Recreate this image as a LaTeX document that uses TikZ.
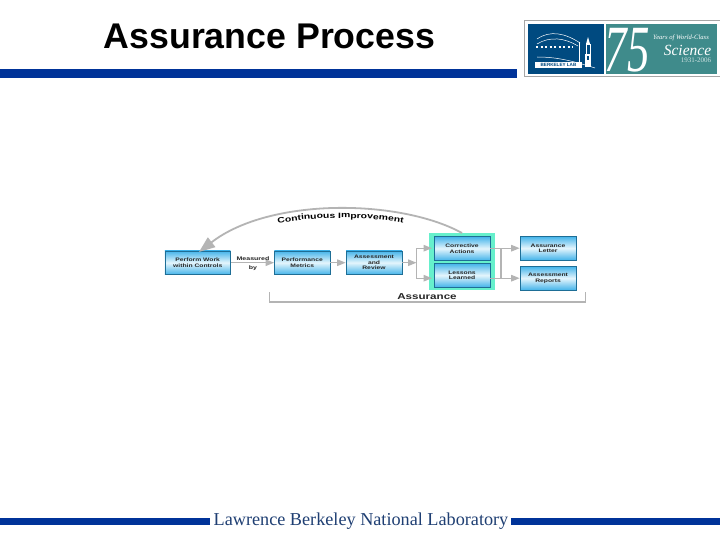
\documentclass[tikz,border=0pt]{standalone}
\usepackage{graphicx}
\usepackage{fontspec}
\setmainfont{Liberation Sans}
\newfontfamily\serifface{Liberation Serif}
\newfontfamily\wideface[FakeStretch=1.35]{Liberation Sans}
\usetikzlibrary{arrows.meta,decorations.text,calc}
\definecolor{barblue}{HTML}{003399}
\definecolor{logoblue}{HTML}{004A80}
\definecolor{logoteal}{HTML}{3F8B8B}
\definecolor{boxedge}{HTML}{1E6E96}
\definecolor{boxblue}{HTML}{45B4EA}
\definecolor{boxpale}{HTML}{E4F5FC}
\definecolor{flow}{HTML}{B4B4B4}
\definecolor{halo}{HTML}{66F0CC}
\definecolor{wordblue}{HTML}{1F3F73}
\tikzset{
  x=1pt,y=-1pt,
  procbox/.style={rectangle,draw=boxedge,line width=0.7pt,top color=boxblue,bottom color=boxblue,middle color=boxpale,
    minimum width=#1,minimum height=23.5pt,inner sep=0pt,align=center,font=\wideface\bfseries\fontsize{5}{5.6}\selectfont,text=black!85},
  procbox/.default=56pt,
  flowline/.style={draw=flow,line width=1.2pt},
  flowarrow/.style={flowline,-{Triangle[length=8.5pt,width=6.5pt,fill=flow]}},
  plaintext/.style={inner sep=0pt,align=center},
}
\begin{document}
\begin{tikzpicture}
\useasboundingbox (0,0) rectangle (720,540);
\fill[white] (0,0) rectangle (720,540);
% title and bars
\node[plaintext,anchor=base,font=\bfseries\fontsize{35.7}{40}\selectfont] (title) at (269.5,48.5) {Assurance Process};
\fill[barblue] (0,69) rectangle (517,78);
\fill[barblue] (0,518) rectangle (210,525);
\fill[barblue] (511,518) rectangle (720,525);
\node[plaintext,anchor=base,text=wordblue,font=\serifface\fontsize{18.2}{20}\selectfont] (lab) at (361,525) {Lawrence Berkeley National Laboratory};
% logo
\draw[gray!70,line width=0.6pt] (720,20.5) -- (524.5,20.5) -- (524.5,76.5) -- (720,76.5);
\fill[logoblue] (528,24) rectangle (604,74);
\fill[logoteal] (606,24) rectangle (717,74);
\draw[white,line width=0.5pt] (537,39) .. controls (550,30) and (565,33) .. (580,43) (537,44) .. controls (550,36) and (565,38) .. (578,46) (537,57) .. controls (555,57) and (570,60) .. (595,68);
\draw[white,line width=0.5pt] (579,42) -- (579,63);
\draw[white,dash pattern=on 2pt off 2.5pt,line width=2pt] (536,47) -- (573,47);
\fill[white] (585,54) rectangle (591,67);
\fill[logoblue] (587,56) rectangle (589,60);
\fill[white] (586,44) -- (588,37) -- (590,44) -- cycle;
\draw[white,line width=0.7pt] (586,44) rectangle (590,54);
\fill[white] (535,62) rectangle (582,68);
\node[plaintext,text=logoblue,font=\bfseries\fontsize{4.6}{5}\selectfont] (blab) at (558.5,65) {BERKELEY LAB};
\node[plaintext,text=white,font=\serifface\itshape\fontsize{66}{66}\selectfont] (sev) at (627,50) {\scalebox{0.68}[1]{75}};
\node[plaintext,text=white,font=\serifface\itshape\fontsize{6.6}{7}\selectfont] (yrs) at (681,38) {Years of World-Class};
\node[plaintext,text=white,font=\serifface\itshape\fontsize{15.5}{16}\selectfont] (sci) at (687.5,50) {Science};
\node[plaintext,text=white!75!logoteal,font=\serifface\fontsize{7}{7}\selectfont] (yr2) at (696,60.5) {1931-2006};
% halo
\fill[halo] (429,233) rectangle (495,290);
% boxes
\node[procbox=65.5pt] (perform) at (197.7,262.7) {Perform Work\\within Controls};
\node[procbox=55.5pt] (metrics) at (302.2,262.7) {Performance\\Metrics};
\node[procbox=56pt] (review) at (374,262.7) {Assessment\\and\\Review};
\node[procbox=56pt] (corrective) at (462,248.5) {Corrective\\Actions};
\node[procbox=56pt] (lessons) at (462,275.2) {Lessons\\Learned};
\node[procbox=56pt] (letter) at (548,248.2) {Assurance\\Letter};
\node[procbox=56pt] (reports) at (548,278.2) {Assessment\\Reports};
% connectors
\draw[flowarrow] (perform.east) -- (metrics.west);
\draw[flowarrow] (metrics.east) -- (review.west);
\coordinate (splitin) at (416.5,262.7);
\coordinate (tipa) at (432,248.2);
\coordinate (tipb) at (432,278.2);
\draw[flowarrow] (review.east) -- (splitin);
\draw[flowarrow] (splitin) |- (tipa);
\draw[flowarrow] (splitin) |- (tipb);
\coordinate (outa) at (490,248.2);
\coordinate (outb) at (490,278.2);
\coordinate (splitout) at (501,248.2);
\draw[flowarrow] (outa) -- (letter.west);
\draw[flowarrow] (outb) -- (reports.west);
\draw[flowline] (splitout) -- (splitout |- outb);
\node[plaintext,font=\wideface\bfseries\fontsize{5.2}{8.5}\selectfont,text=black!85] (measured) at (253,263.5) {Measured\\[0.5pt]by};
% improvement arc
\coordinate (arcstart) at (462,233);
\coordinate (arcend) at (199,252);
\draw[draw=flow,line width=1.8pt,-{Triangle[length=16pt,width=12pt,fill=flow]}] (arcstart) .. controls (400,199) and (270,197) .. (arcend);
\path[postaction={decorate,decoration={text along path,text align=center,
  text={|\wideface\bfseries\fontsize{7.7}{9}\selectfont|Continuous Improvement}}}]
  (274,224) .. controls (315,216) and (365,216) .. (407,224);
% assurance bracket
\coordinate (brl) at (269.5,292);
\coordinate (brr) at (585.5,292);
\draw[flowline,line width=1.6pt] (brl) -- (269.5,302) -- (585.5,302) -- (brr);
\node[inner sep=0pt,font=\wideface\bfseries\fontsize{8.6}{9}\selectfont,text=black!85] (assur) at (427,296.5) {Assurance};
\end{tikzpicture}
\end{document}
